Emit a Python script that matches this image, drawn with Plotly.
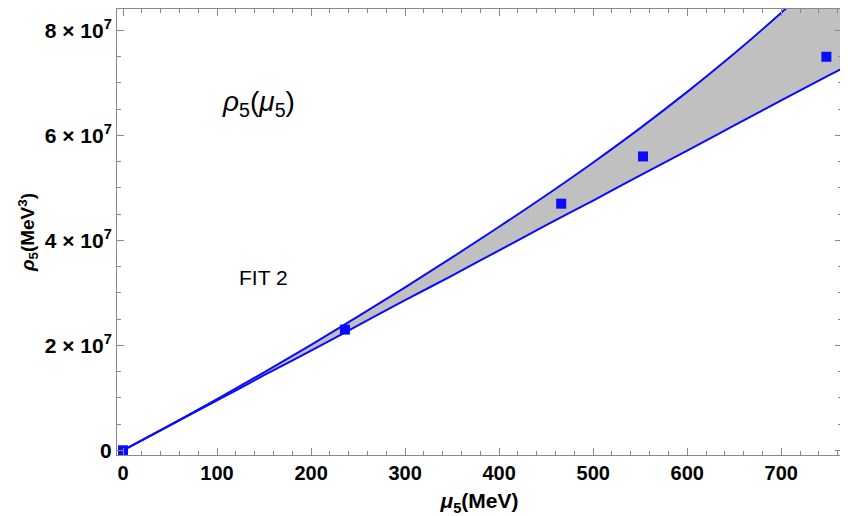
import plotly.graph_objects as go

# Data
mu_grid = [0, 50, 100, 150, 200, 250, 300, 350, 400, 450, 500, 550, 600, 650, 700, 750, 765]
rho_upper = [0, 4.8e6, 9.75e6, 1.485e7, 2.01e7, 2.55e7, 3.105e7, 3.675e7, 4.26e7, 4.86e7,
             5.485e7, 6.14e7, 6.83e7, 7.56e7, 8.34e7, 9.17e7, 9.43e7]
rho_lower = [0, 4.77e6, 9.5e6, 1.43e7, 1.9e7, 2.38e7, 2.86e7, 3.33e7, 3.81e7, 4.29e7,
             4.76e7, 5.24e7, 5.71e7, 6.19e7, 6.67e7, 7.14e7, 7.28e7]

mu_points = [0, 236, 466, 553, 748]
rho_points = [0, 2.3e7, 4.7e7, 5.6e7, 7.5e7]

x_ticks = [0, 100, 200, 300, 400, 500, 600, 700]
y_ticks = [0, 2e7, 4e7, 6e7, 8e7]
y_ticktext = ["0",
              "2\u00a0×\u00a010<sup>7</sup>", "4\u00a0×\u00a010<sup>7</sup>",
              "6\u00a0×\u00a010<sup>7</sup>", "8\u00a0×\u00a010<sup>7</sup>"]

BLUE = "#0a0aff"
FONT = "Arial, Liberation Sans, sans-serif"

fig = go.Figure()
fig.add_trace(go.Scatter(x=mu_grid, y=rho_lower, mode="lines",
                         line=dict(color=BLUE, width=2, shape="spline"), showlegend=False))
fig.add_trace(go.Scatter(x=mu_grid, y=rho_upper, mode="lines", fill="tonexty",
                         fillcolor="#c0c0c0",
                         line=dict(color=BLUE, width=2, shape="spline"), showlegend=False))
fig.add_trace(go.Scatter(x=mu_points, y=rho_points, mode="markers",
                         marker=dict(symbol="square", size=10, color=BLUE),
                         showlegend=False))

axis_common = dict(
    showgrid=False, zeroline=False, showline=True, linecolor="#888888", linewidth=1,
    mirror="allticks", ticks="inside", ticklen=7, tickcolor="#888888",
    automargin=False,
)

fig.update_xaxes(
    range=[-6.4, 764.6], tickvals=x_ticks,
    tickfont=dict(family=FONT, size=20, color="black", weight="bold"),
    minor=dict(ticks="inside", ticklen=4, dtick=20, tick0=0, tickcolor="#888888"),
    title=dict(text="<i>μ</i><sub>5</sub>(MeV)", font=dict(family=FONT, size=21, color="black", weight="bold"),
               standoff=10),
    **axis_common,
)
fig.update_yaxes(
    range=[-0.9e6, 8.41e7], tickvals=y_ticks, ticktext=y_ticktext,
    tickfont=dict(family=FONT, size=21, color="black", weight="bold"),
    minor=dict(ticks="inside", ticklen=4, dtick=5e6, tick0=0, tickcolor="#888888"),
    title=dict(text="<i>ρ</i><sub>5</sub>(MeV<sup>3</sup>)", font=dict(family=FONT, size=19, color="black", weight="bold"),
               standoff=4),
    **axis_common,
)

fig.add_annotation(xref="paper", yref="paper", x=0.1945, y=0.789, xanchor="center", yanchor="middle",
                   text="<i>ρ</i><sub>5</sub>(<i>μ</i><sub>5</sub>)", showarrow=False,
                   font=dict(family=FONT, size=28, color="black"))
fig.add_annotation(xref="paper", yref="paper", x=0.2014, y=0.399, xanchor="center", yanchor="middle",
                   text="FIT 2", showarrow=False,
                   font=dict(family=FONT, size=21, color="black"))

# page body has an 8px margin, so the figure is offset by 8px; compensate
fig.update_layout(
    width=840, height=508,
    margin=dict(l=109, r=6, t=1, b=61),
    plot_bgcolor="white", paper_bgcolor="white",
)

fig.write_html("out.html")
